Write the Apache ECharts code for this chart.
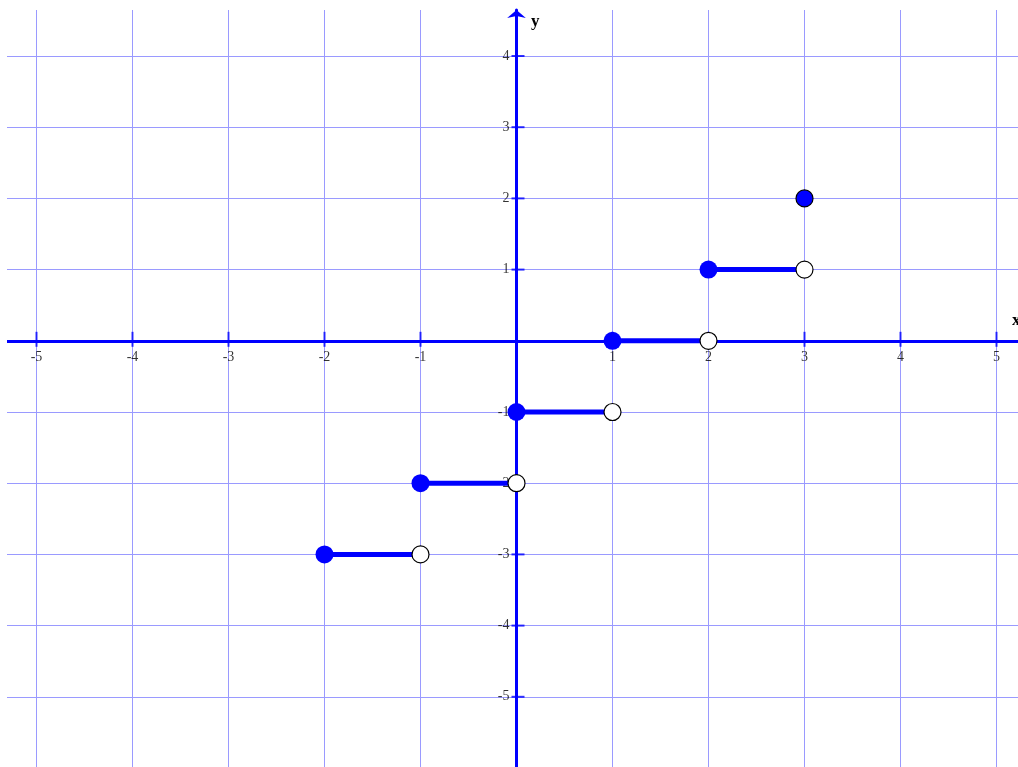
<!DOCTYPE html>
<html>
<head>
<meta charset="utf-8">
<script src="https://cdn.jsdelivr.net/npm/echarts@6/dist/echarts.min.js"></script>
<style>html,body{margin:0;padding:0;background:#fff;}#c{width:1018px;height:767px;}</style>
</head>
<body>
<div id="c"></div>
<script>
// ---- data ----
const stepStarts = [-2, -1, 0, 1, 2];
const stepEnds = [-1, 0, 1, 2, 3];
const stepValues = [-3, -2, -1, 0, 1];
const isolatedPoint = [[3, 2]];
const xTickValues = [-5, -4, -3, -2, -1, 1, 2, 3, 4, 5];
const yTickValues = [-5, -4, -3, -2, -1, 1, 2, 3, 4];

const BLUE = '#0000ff';
const GRID = '#9a9aff';
const FONT = 'Liberation Serif';

const segmentSeries = stepStarts.map((s, i) => ({
  type: 'line',
  data: [[s, stepValues[i]], [stepEnds[i], stepValues[i]]],
  showSymbol: false,
  symbol: 'none',
  lineStyle: { color: BLUE, width: 5 },
  z: 3,
  silent: true
}));

const closedPts = stepStarts.map((s, i) => [s, stepValues[i]]);
const openPts = stepEnds.map((e, i) => [e, stepValues[i]]);
const xTickPts = xTickValues.map(v => [v, 0]);
const yTickPts = yTickValues.map(v => [0, v]);

const option = {
  animation: false,
  backgroundColor: '#ffffff',
  grid: { left: -59.5, right: -74.5, top: 10, bottom: -1, containLabel: false, outerBoundsMode: 'none' },
  xAxis: {
    type: 'value', min: -6, max: 6, interval: 1,
    axisLine: { show: true, onZero: true, lineStyle: { color: BLUE, width: 3 }, symbol: ['none', 'arrow'], symbolSize: [14, 8] },
    axisTick: { show: false },
    axisLabel: { show: false },
    splitLine: { show: true, lineStyle: { color: GRID, width: 1, type: 'solid', opacity: 1 } }
  },
  yAxis: {
    type: 'value', min: -6, max: 4.646, interval: 1,
    axisLine: { show: true, onZero: true, lineStyle: { color: BLUE, width: 3 }, symbol: ['none', 'arrow'], symbolSize: [14, 8] },
    axisTick: { show: false },
    axisLabel: { show: false },
    splitLine: { show: true, showMaxLine: false, lineStyle: { color: GRID, width: 1, type: 'solid', opacity: 1 } }
  },
  graphic: [
    { type: 'rect', left: 0, top: 0, shape: { width: 7, height: 767 }, style: { fill: '#ffffff' }, z: 1 },
    { type: 'text', left: 531, top: 13, style: { text: 'y', font: 'bold 17px "Liberation Serif"', fill: '#000' }, z: 10 },
    { type: 'text', left: 1012, top: 312, style: { text: 'x', font: 'bold 17px "Liberation Serif"', fill: '#000' }, z: 10 }
  ],
  series: segmentSeries.concat([
    {
      // x-axis tick marks + labels
      type: 'scatter',
      data: xTickPts,
      symbol: 'rect',
      symbolSize: [2, 15],
      symbolOffset: [0, -1.5],
      itemStyle: { color: BLUE },
      label: { show: true, position: 'bottom', distance: 4, formatter: p => String(p.value[0]), color: '#000', fontFamily: FONT, fontSize: 14 },
      z: 1,
      silent: true
    },
    {
      // y-axis tick marks + labels
      type: 'scatter',
      data: yTickPts,
      symbol: 'rect',
      symbolSize: [13, 2],
      symbolOffset: [1.5, 0],
      itemStyle: { color: BLUE },
      label: { show: true, position: 'left', distance: 2, formatter: p => String(p.value[1]), color: '#000', fontFamily: FONT, fontSize: 14 },
      z: 1,
      silent: true
    },
    {
      type: 'scatter',
      data: closedPts,
      symbol: 'circle',
      symbolSize: 18,
      itemStyle: { color: BLUE, borderColor: BLUE, borderWidth: 0, opacity: 1 },
      z: 4,
      silent: true
    },
    {
      type: 'scatter',
      data: openPts,
      symbol: 'circle',
      symbolSize: 17,
      itemStyle: { color: '#ffffff', borderColor: '#000', borderWidth: 1.2, opacity: 1 },
      z: 5,
      silent: true
    },
    {
      type: 'scatter',
      data: isolatedPoint,
      symbol: 'circle',
      symbolSize: 17,
      itemStyle: { color: BLUE, borderColor: '#000', borderWidth: 1.2, opacity: 1 },
      z: 5,
      silent: true
    }
  ])
};

const chart = echarts.init(document.getElementById('c'), null, { renderer: 'canvas' });
chart.setOption(option);
</script>
</body>
</html>
